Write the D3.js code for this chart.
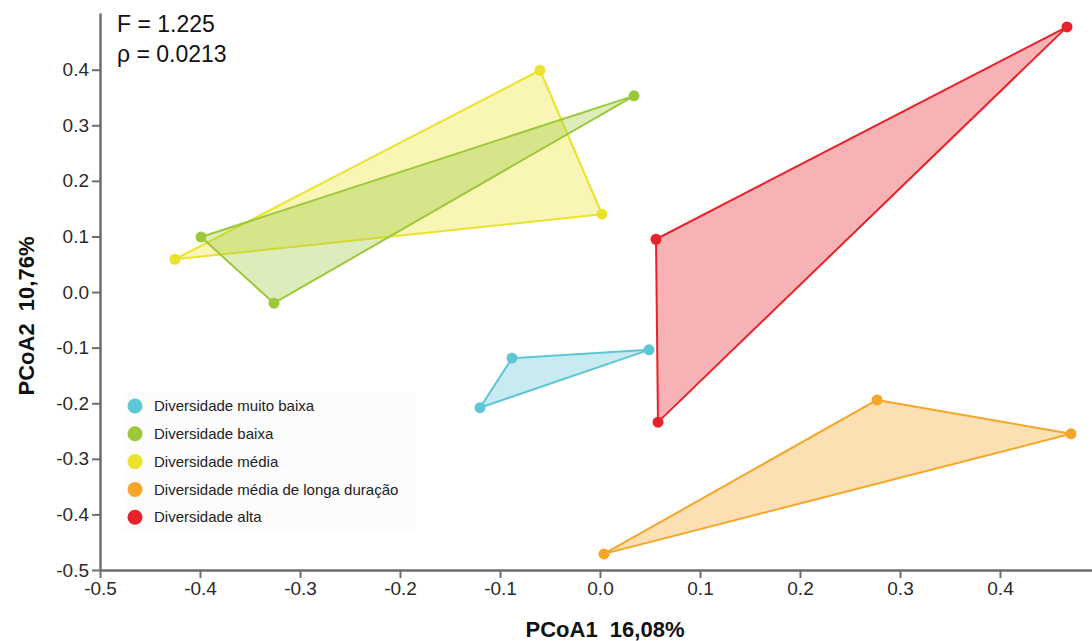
<!DOCTYPE html>
<html><head><meta charset="utf-8">
<script src="https://cdn.jsdelivr.net/npm/d3@7"></script>
<style>body{margin:0;background:#fff;}svg{display:block;font-family:"Liberation Sans",Arial,sans-serif;}</style>
</head><body>
<svg id="c" width="1092" height="641"></svg>
<script>
const groups = ["Diversidade muito baixa","Diversidade baixa","Diversidade média","Diversidade média de longa duração","Diversidade alta"];
const colors = ["#5ec6d6","#9cc83a","#ebe22c","#f5a628","#e8222b"];
const pointsMuitoBaixa = [[-0.120,-0.208],[-0.088,-0.119],[0.049,-0.104]];
const pointsBaixa = [[-0.399,0.099],[0.034,0.353],[-0.326,-0.020]];
const pointsMedia = [[-0.425,0.059],[-0.060,0.399],[0.002,0.140]];
const pointsMediaLonga = [[0.004,-0.471],[0.277,-0.194],[0.471,-0.255]];
const pointsAlta = [[0.056,0.095],[0.467,0.477],[0.058,-0.234]];
const xTicks = [-0.5,-0.4,-0.3,-0.2,-0.1,0.0,0.1,0.2,0.3,0.4];
const yTicks = [-0.5,-0.4,-0.3,-0.2,-0.1,0.0,0.1,0.2,0.3,0.4];
const stats = ["F = 1.225","ρ = 0.0213"];
const xLabel = "PCoA1  16,08%";
const yLabel = "PCoA2  10,76%";
const allPoints = [pointsMuitoBaixa,pointsBaixa,pointsMedia,pointsMediaLonga,pointsAlta];

const svg = d3.select("#c");
const x = d3.scaleLinear().domain([-0.5,0.492]).range([100,1092]);
const y = d3.scaleLinear().domain([-0.5,0.502]).range([570,13]);

// legend background
svg.append("rect").attr("x",123).attr("y",392).attr("width",292).attr("height",140).attr("fill","#fcfcfc");

// polygons
const drawOrder = [2,1,0,3,4];
drawOrder.forEach(i=>{
  const pts = allPoints[i];
  svg.append("polygon")
    .attr("points", pts.map(p=>x(p[0])+","+y(p[1])).join(" "))
    .attr("fill", colors[i]).attr("fill-opacity",0.35)
    .attr("stroke", colors[i]).attr("stroke-width",2).attr("stroke-linejoin","round");
});
drawOrder.forEach(i=>{
  svg.selectAll(null).data(allPoints[i]).enter().append("circle")
    .attr("cx",d=>x(d[0])).attr("cy",d=>y(d[1])).attr("r",5.5)
    .attr("fill",colors[i]);
});

// axes
const axCol = "#6e6e6e";
const gx = svg.append("g").attr("transform","translate(0,570)")
  .call(d3.axisBottom(x).tickValues(xTicks).tickSize(8).tickSizeOuter(0));
const gy = svg.append("g").attr("transform","translate(100,0)")
  .call(d3.axisLeft(y).tickValues(yTicks).tickSize(8).tickSizeOuter(0));
[gx,gy].forEach(g=>{
  g.select(".domain").attr("stroke",axCol).attr("stroke-width",2.5);
  g.selectAll(".tick line").attr("stroke",axCol).attr("stroke-width",2);
  g.selectAll(".tick text").attr("fill","#2a2a2a").attr("font-size",19).attr("font-family","Liberation Sans, Arial, sans-serif")
    .text(d=>d.toFixed(1));
});
gx.selectAll(".tick text").attr("y",10).attr("dy","0.8em");
gy.selectAll(".tick text").attr("x",-11);

// stats
svg.selectAll(".stat").data(stats).enter().append("text")
  .attr("x",117).attr("y",(d,i)=>32+i*30).attr("font-size",23).attr("fill","#111").text(d=>d);

// axis labels
svg.append("text").attr("x",605).attr("y",637).attr("text-anchor","middle")
  .attr("font-size",22).attr("font-weight","bold").attr("fill","#111").attr("xml:space","preserve").text(xLabel);
svg.append("text").attr("transform","translate(34,316) rotate(-90)").attr("text-anchor","middle")
  .attr("font-size",22).attr("font-weight","bold").attr("fill","#111").attr("xml:space","preserve").text(yLabel);

// legend
const lg = svg.append("g");
groups.forEach((g,i)=>{
  lg.append("circle").attr("cx",135).attr("cy",406+i*27.8).attr("r",7.5).attr("fill",colors[i]);
  lg.append("text").attr("x",154).attr("y",406+i*27.8).attr("dy","0.35em").attr("font-size",15).attr("fill","#222").text(g);
});
</script>
</body></html>
